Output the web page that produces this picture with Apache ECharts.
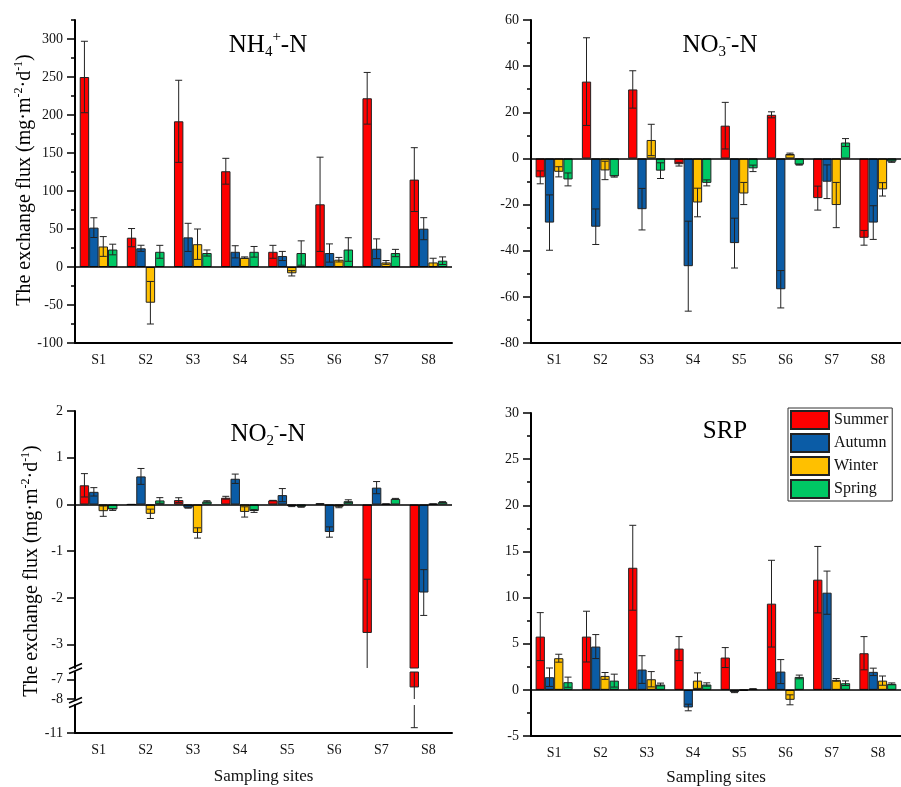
<!DOCTYPE html>
<html>
<head>
<meta charset="utf-8">
<script src="https://cdn.jsdelivr.net/npm/echarts@6/dist/echarts.min.js"></script>
<style>
html, body { margin: 0; padding: 0; background: #fff; }
#box { width: 901px; height: 787px; }
</style>
</head>
<body>
<div id="box"></div>
<script>
var sites = ['S1', 'S2', 'S3', 'S4', 'S5', 'S6', 'S7', 'S8'];
var seasons = ['Summer', 'Autumn', 'Winter', 'Spring'];
var colors = ['#ff0000', '#0b5ca6', '#ffc000', '#00c864'];

// NH4+-N
var nh4Summer = [250, 38.6, 191.7, 126, 20, 82.5, 222, 115];
var nh4SummerErr = [47, 12, 54, 17, 8.5, 62, 34, 42];
var nh4Autumn = [51.8, 24.6, 39, 20, 14.5, 18.4, 24, 50.4];
var nh4AutumnErr = [13, 4, 18.5, 8, 6, 12, 13, 14.5];
var nh4Winter = [27, -47, 30, 12.3, -8.3, 9.6, 6, 6];
var nh4WinterErr = [13, 28, 20, 1, 3.5, 3, 2.5, 5.5];
var nh4Spring = [23, 20, 18.4, 20, 18.4, 23, 18.4, 8.3];
var nh4SpringErr = [7, 8.5, 4, 7, 16, 15.5, 4.8, 5];

// NO3--N
var no3Summer = [-8.2, 33.3, 29.9, -2.5, 14.2, 18.9, -17.2, -34.4];
var no3SummerErr = [2.8, 19, 8.1, 0.8, 10.1, 1.3, 5.2, 3.2];
var no3Autumn = [-27.8, -29.6, -22, -46.7, -36.7, -56.7, -10.1, -27.8];
var no3AutumnErr = [12, 7.7, 9, 19.5, 10.8, 8.1, 7.3, 7.3];
var no3Winter = [-5.8, -5.2, 8, -19.1, -15.2, 1.9, -20.2, -13.4];
var no3WinterErr = [2.2, 4, 6.8, 6.2, 4.8, 0.4, 9.8, 2.9];
var no3Spring = [-9.1, -7.8, -5.3, -10.6, -4.3, -2.7, 6.9, -1.4];
var no3SpringErr = [2.8, 0.3, 3.4, 1.3, 1.4, 0.2, 1.7, 0.3];

// NO2--N
var no2Summer = [0.41, 0, 0.094, 0.144, 0.086, 0.02, -2.75, -7.4];
var no2SummerErr = [0.25, 0, 0.05, 0.03, 0, 0, 1.15, 3.03];
var no2Autumn = [0.27, 0.6, -0.07, 0.55, 0.2, -0.59, 0.36, -1.885];
var no2AutumnErr = [0.09, 0.17, 0.01, 0.1, 0.14, 0.11, 0.13, 0.49];
var no2Winter = [-0.144, -0.2, -0.61, -0.16, -0.036, -0.05, 0.01, 0.01];
var no2WinterErr = [0.11, 0.1, 0.11, 0.11, 0.01, 0.02, 0, 0];
var no2Spring = [-0.108, 0.086, 0.065, -0.14, -0.05, 0.07, 0.12, 0.05];
var no2SpringErr = [0.02, 0.06, 0.015, 0.03, 0.01, 0.03, 0.01, 0.01];

// SRP
var srpSummer = [5.77, 5.77, 13.23, 4.47, 3.5, 9.34, 11.94, 3.97];
var srpSummerErr = [2.6, 2.75, 4.6, 1.3, 1.08, 4.7, 3.6, 1.8];
var srpAutumn = [1.37, 4.69, 2.2, -1.91, -0.25, 1.98, 10.53, 1.95];
var srpAutumnErr = [1, 1.3, 1.5, 0.36, 0.05, 1.3, 2.34, 0.4];
var srpWinter = [3.43, 1.51, 1.15, 1.0, -0.05, -1.08, 1.08, 1.0];
var srpWinterErr = [0.43, 0.37, 0.83, 0.84, 0.02, 0.54, 0.15, 0.5];
var srpSpring = [0.83, 1.0, 0.58, 0.58, 0.1, 1.4, 0.72, 0.65];
var srpSpringErr = [0.55, 0.7, 0.15, 0.18, 0.02, 0.2, 0.25, 0.1];

// tick labels
var nh4Ticks = [-100, -50, 0, 50, 100, 150, 200, 250, 300];
var no3Ticks = [-80, -60, -40, -20, 0, 20, 40, 60];
var no2TicksTop = [-3, -2, -1, 0, 1, 2];
var no2TicksMid = [-8, -7];
var no2TicksLow = [-11];
var srpTicks = [-5, 0, 5, 10, 15, 20, 25, 30];

var nh4 = [[nh4Summer, nh4SummerErr], [nh4Autumn, nh4AutumnErr], [nh4Winter, nh4WinterErr], [nh4Spring, nh4SpringErr]];
var no3 = [[no3Summer, no3SummerErr], [no3Autumn, no3AutumnErr], [no3Winter, no3WinterErr], [no3Spring, no3SpringErr]];
var no2 = [[no2Summer, no2SummerErr], [no2Autumn, no2AutumnErr], [no2Winter, no2WinterErr], [no2Spring, no2SpringErr]];
var srp = [[srpSummer, srpSummerErr], [srpAutumn, srpAutumnErr], [srpWinter, srpWinterErr], [srpSpring, srpSpringErr]];

var font = 'Liberation Serif';

function xAx(g, show, name, gap) {
  return {
    type: 'category', gridIndex: g, data: sites, show: show,
    name: name || '', nameLocation: 'middle', nameGap: gap || 0,
    nameTextStyle: { fontFamily: font, fontSize: 17, color: '#111' },
    axisLine: { onZero: false, lineStyle: { color: '#000', width: 2 } },
    axisTick: { alignWithLabel: true, length: 7, lineStyle: { color: '#000', width: 1.5 } },
    axisLabel: { fontFamily: font, fontSize: 14, color: '#111', margin: 10 }
  };
}

function yAx(g, min, max, ticks, interval, minor) {
  var a = {
    type: 'value', gridIndex: g, min: min, max: max,
    splitLine: { show: false },
    axisLine: { show: true, onZero: false, lineStyle: { color: '#000', width: 2 } },
    axisTick: { show: true, length: 8, customValues: ticks, lineStyle: { color: '#000', width: 1.5 } },
    axisLabel: { customValues: ticks, fontFamily: font, fontSize: 14, color: '#111', margin: 12 }
  };
  if (interval) a.interval = interval;
  if (minor) a.minorTick = { show: true, splitNumber: 2, length: 4, lineStyle: { color: '#000', width: 1.5 } };
  return a;
}

function barSeries(vals, k, g, zero) {
  var s = {
    type: 'bar', name: seasons[k], xAxisIndex: g, yAxisIndex: g,
    data: vals, barGap: '0%', barCategoryGap: '20%',
    itemStyle: { color: colors[k], borderColor: '#222', borderWidth: 1 }
  };
  if (zero) {
    s.markLine = {
      silent: true, symbol: 'none', label: { show: false },
      lineStyle: { color: '#000', width: 1.5, type: 'solid' },
      data: [{ yAxis: 0 }]
    };
  }
  return s;
}

function errSeries(vals, errs, k, g, below) {
  var pts = [];
  vals.forEach(function (v, i) {
    if (below === undefined || v - errs[i] < below) pts.push([i, v, errs[i]]);
  });
  return {
    type: 'custom', xAxisIndex: g, yAxisIndex: g, z: 3, clip: true, silent: true,
    data: pts,
    renderItem: function (params, api) {
      var v = api.value(1), e = api.value(2);
      var band = api.size([1, 0])[0];
      var bw = band * 0.8 / 4;
      var hi = api.coord([api.value(0), v + e]);
      var lo = api.coord([api.value(0), v - e]);
      var cx = hi[0] + (k - 1.5) * bw;
      var st = { stroke: '#222', lineWidth: 1 };
      return {
        type: 'group', children: [
          { type: 'line', shape: { x1: cx, y1: hi[1], x2: cx, y2: lo[1] }, style: st },
          { type: 'line', shape: { x1: cx - 3.5, y1: hi[1], x2: cx + 3.5, y2: hi[1] }, style: st },
          { type: 'line', shape: { x1: cx - 3.5, y1: lo[1], x2: cx + 3.5, y2: lo[1] }, style: st }
        ]
      };
    }
  };
}

var series = [];
function addPanel(set, g, below) {
  set.forEach(function (d, k) {
    var vals = d[0];
    if (below !== undefined) {
      // lower parts of the broken axis only get the bars that reach them
      vals = vals.map(function (v) { return v < below ? v : '-'; });
    }
    series.push(barSeries(vals, k, g, k === 0 && below === undefined));
    series.push(errSeries(d[0], d[1], k, g, below));
  });
}
addPanel(nh4, 0);
addPanel(no3, 1);
addPanel(no2, 2);
addPanel(no2, 3, -6.6);
addPanel(no2, 4, -8);
addPanel(srp, 5);

var richTitle = {
  m: { fontFamily: font, fontSize: 25, lineHeight: 30, color: '#111' },
  s: { fontFamily: font, fontSize: 15, lineHeight: 14, verticalAlign: 'bottom', color: '#111' },
  p: { fontFamily: font, fontSize: 15, lineHeight: 14, verticalAlign: 'top', color: '#111' }
};
var richY = {
  n: { fontFamily: font, fontSize: 20, lineHeight: 24, color: '#111' },
  r: { fontFamily: font, fontSize: 20, lineHeight: 24, color: '#c00000' },
  p: { fontFamily: font, fontSize: 12, lineHeight: 12, verticalAlign: 'top', color: '#111' }
};
function label(x, y, text, rich, rot) {
  return {
    type: 'text', x: x, y: y, rotation: rot || 0, z: 10,
    style: { text: text, rich: rich, align: 'center', verticalAlign: 'middle', textAlign: 'center', textVerticalAlign: 'middle' }
  };
}
function brk(y) {
  var st = { stroke: '#000', lineWidth: 1.5 };
  return [
    { type: 'line', shape: { x1: 69, y1: y + 1, x2: 82, y2: y - 4.5 }, style: st },
    { type: 'line', shape: { x1: 69, y1: y + 5.5, x2: 82, y2: y }, style: st }
  ];
}

var option = {
  animation: false,
  backgroundColor: '#fff',
  grid: [
    { left: 75, top: 20, width: 377, height: 323 },
    { left: 531, top: 20, width: 376, height: 323 },
    { left: 75, top: 411, width: 377, height: 257 },
    { left: 75, top: 672, width: 377, height: 27 },
    { left: 75, top: 705, width: 377, height: 28 },
    { left: 531, top: 413, width: 376, height: 323 }
  ],
  xAxis: [
    xAx(0, true), xAx(1, true), xAx(2, false), xAx(3, false),
    xAx(4, true, 'Sampling sites', 35), xAx(5, true, 'Sampling sites', 33)
  ],
  yAxis: [
    yAx(0, -100, 325, nh4Ticks),
    yAx(1, -80, 60, no3Ticks, 20, true),
    yAx(2, -3.5, 2, no2TicksTop),
    yAx(3, -8, -6.6, no2TicksMid),
    yAx(4, -11, -8, no2TicksLow),
    yAx(5, -5, 30, srpTicks, 5, true),
    // short minor ticks for the NH4 panel
    {
      type: 'value', gridIndex: 0, position: 'left', min: -100, max: 325, interval: 25,
      splitLine: { show: false }, axisLine: { show: false }, axisLabel: { show: false },
      axisTick: { show: true, length: 4, lineStyle: { color: '#000', width: 1.5 } }
    }
  ],
  legend: {
    data: seasons, orient: 'vertical', left: 788, top: 408,
    itemWidth: 38, itemHeight: 18, itemGap: 3, icon: 'rect',
    padding: [2, 4, 2, 2], borderColor: '#333', borderWidth: 1, backgroundColor: '#fff',
    textStyle: { fontFamily: font, fontSize: 16, color: '#111' }
  },
  graphic: [
    label(268, 45, '{m|NH}{s|4}{p|+}{m|-N}', richTitle),
    label(720, 45, '{m|NO}{s|3}{p|-}{m|-N}', richTitle),
    label(268, 434, '{m|NO}{s|2}{p|-}{m|-N}', richTitle),
    label(725, 431, '{m|SRP}', richTitle),
    label(25, 180, '{r|T}{n|he exchange flux (mg·m}{p|-2}{n|·d}{p|-1}{n|)}', richY, Math.PI / 2),
    label(32, 571, '{n|The exchange flux (mg·m}{p|-2}{n|·d}{p|-1}{n|)}', richY, Math.PI / 2)
  ].concat(brk(668), brk(702)),
  series: series
};

var myChart = echarts.init(document.getElementById('box'));
myChart.setOption(option);
</script>
</body>
</html>
